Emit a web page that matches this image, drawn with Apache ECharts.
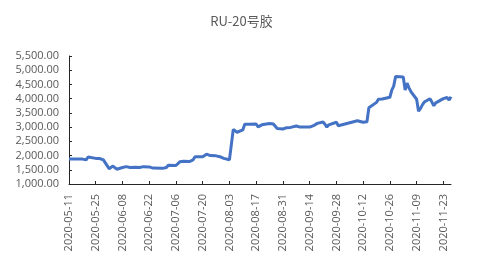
<!DOCTYPE html>
<html><head><meta charset="utf-8">
<script src="https://cdn.jsdelivr.net/npm/echarts@6/dist/echarts.min.js"></script>
<style>html,body{margin:0;padding:0;background:#fff}#c{width:483px;height:262px}</style>
</head><body><div id="c"></div>
<script>
var title = "RU-20号胶";
var startDate = "2020-05-11";
var dates = ["2020-05-11","2020-05-12","2020-05-13","2020-05-14","2020-05-15","2020-05-18","2020-05-19","2020-05-20","2020-05-21","2020-05-22",
"2020-05-25","2020-05-26","2020-05-27","2020-05-28","2020-05-29","2020-06-01","2020-06-02","2020-06-03","2020-06-04","2020-06-05",
"2020-06-08","2020-06-09","2020-06-10","2020-06-11","2020-06-12","2020-06-15","2020-06-16","2020-06-17","2020-06-18","2020-06-19",
"2020-06-22","2020-06-23","2020-06-24","2020-06-29","2020-06-30","2020-07-01","2020-07-02","2020-07-03",
"2020-07-06","2020-07-07","2020-07-08","2020-07-09","2020-07-10","2020-07-13","2020-07-14","2020-07-15","2020-07-16","2020-07-17",
"2020-07-20","2020-07-21","2020-07-22","2020-07-23","2020-07-24","2020-07-27","2020-07-28","2020-07-29","2020-07-30","2020-07-31",
"2020-08-03","2020-08-04","2020-08-05","2020-08-06","2020-08-07","2020-08-10","2020-08-11","2020-08-12","2020-08-13","2020-08-14",
"2020-08-17","2020-08-18","2020-08-19","2020-08-20","2020-08-21","2020-08-24","2020-08-25","2020-08-26","2020-08-27","2020-08-28",
"2020-08-31","2020-09-01","2020-09-02","2020-09-03","2020-09-04","2020-09-07","2020-09-08","2020-09-09","2020-09-10","2020-09-11",
"2020-09-14","2020-09-15","2020-09-16","2020-09-17","2020-09-18","2020-09-21","2020-09-22","2020-09-23","2020-09-24","2020-09-25",
"2020-09-28","2020-09-29","2020-09-30","2020-10-09","2020-10-12","2020-10-13","2020-10-14","2020-10-15","2020-10-16",
"2020-10-19","2020-10-20","2020-10-21","2020-10-22","2020-10-23","2020-10-26","2020-10-27","2020-10-28","2020-10-29","2020-10-30",
"2020-11-02","2020-11-03","2020-11-04","2020-11-05","2020-11-06","2020-11-09","2020-11-10","2020-11-11","2020-11-12","2020-11-13",
"2020-11-16","2020-11-17","2020-11-18","2020-11-19","2020-11-20","2020-11-23","2020-11-24","2020-11-25","2020-11-26","2020-11-27"];
var prices = [1880,1885,1880,1885,1880,1875,1880,1850,1950,1910,
1900,1890,1895,1860,1850,1540,1510,1630,1560,1520,
1580,1600,1610,1590,1580,1590,1600,1580,1600,1610,
1600,1570,1560,1550,1560,1580,1660,1620,
1650,1700,1780,1820,1800,1790,1840,1850,1960,1985,
1960,2010,2050,2020,2000,1990,1980,1960,1940,1900,
1850,1820,2920,2850,2820,2900,3100,3080,3100,3090,
3110,3010,3060,3080,3070,3130,3120,3110,3100,2950,
2935,2940,2980,2990,2990,3040,3020,3000,3000,3000,
3000,3010,3050,3100,3130,3180,3100,3000,3080,3130,
3170,3050,3015,3225,3170,3200,3190,3680,3720,
3870,3980,4050,3990,3980,4050,4300,4440,4780,4800,
4760,4300,4550,4380,4250,3980,3560,3650,3780,3880,
4000,3880,3750,3850,3900,4000,4030,4040,3950,4070];
var yMin = 1000, yMax = 5500, yStep = 500;
var xSpanDays = 200, xStepDays = 14;

var DAY = 86400000;
function toMs(s){var p=s.split("-");return Date.UTC(+p[0],+p[1]-1,+p[2]);}
var t0 = toMs(startDate);
var seriesData = dates.map(function(d,i){return [(toMs(d)-t0)/DAY, prices[i]];});
function fmtDay(v){var dt=new Date(t0+v*DAY);var m=dt.getUTCMonth()+1,d=dt.getUTCDate();
  return dt.getUTCFullYear()+"-"+(m<10?"0":"")+m+"-"+(d<10?"0":"")+d;}
function fmtNum(v){return v.toLocaleString("en-US",{minimumFractionDigits:2,maximumFractionDigits:2});}

var chart = echarts.init(document.getElementById("c"), null, {renderer:"canvas"});
chart.setOption({
  animation:false,
  title:{text:title,left:"center",top:10,textStyle:{fontSize:13,fontWeight:"normal",color:"#595959",fontFamily:"Noto Sans CJK SC, Open Sans, sans-serif"}},
  grid:{left:69,right:32,top:56,bottom:78},
  xAxis:{type:"value",min:0,max:xSpanDays,interval:xStepDays,
    axisLine:{lineStyle:{color:"#262626",width:1}},
    axisTick:{inside:true,length:3,lineStyle:{color:"#262626"}},
    splitLine:{show:false},
    axisLabel:{rotate:90,margin:10,fontSize:11,color:"#595959",fontFamily:"Open Sans, sans-serif",showMaxLabel:false,
      formatter:function(v){return v%xStepDays===0?fmtDay(v):"";}}},
  yAxis:{type:"value",min:yMin,max:yMax,interval:yStep,
    axisLine:{show:true,lineStyle:{color:"#262626",width:1}},
    axisTick:{show:true,inside:true,length:3,lineStyle:{color:"#262626"}},
    splitLine:{show:false},
    axisLabel:{margin:10,fontSize:11,color:"#595959",fontFamily:"Open Sans, sans-serif",formatter:fmtNum}},
  series:[{type:"line",data:seriesData,symbol:"none",lineStyle:{color:"#4472C4",width:3},itemStyle:{color:"#4472C4"}}]
});
</script></body></html>
